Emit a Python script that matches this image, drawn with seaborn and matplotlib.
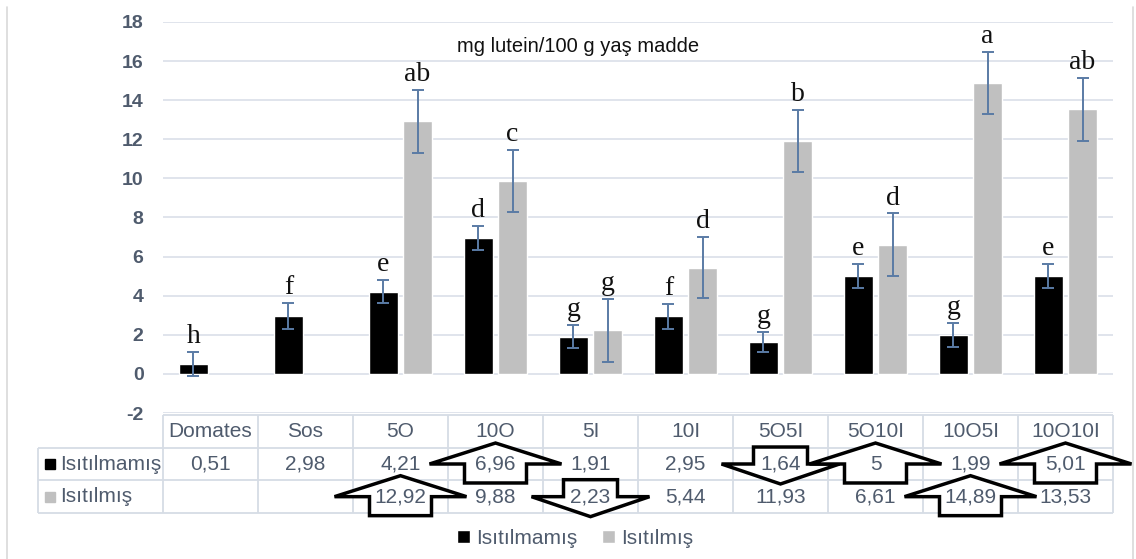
"""
Lutein içeriği - Isıtılmamış / Isıtılmış örnekler, Excel tarzı veri tablosu ile
"""

import numpy as np
import pandas as pd
import seaborn as sns
import matplotlib.pyplot as plt
from matplotlib.patches import Polygon
from matplotlib.lines import Line2D

sns.set_style("white")
plt.rcParams['font.family'] = ['Liberation Sans', 'DejaVu Sans']

# Veriler
categories = ['Domates', 'Sos', '5O', '10O', '5I', '10I', '5O5I', '5O10I', '10O5I', '10O10I']
isitilmamis = [0.51, 2.98, 4.21, 6.96, 1.91, 2.95, 1.64, 5.00, 1.99, 5.01]
isitilmis = [np.nan, np.nan, 12.92, 9.88, 2.23, 5.44, 11.93, 6.61, 14.89, 13.53]
isitilmamis_err = [0.62, 0.66, 0.60, 0.63, 0.60, 0.63, 0.50, 0.63, 0.63, 0.63]
isitilmis_err = [np.nan, np.nan, 1.60, 1.58, 1.60, 1.55, 1.58, 1.60, 1.60, 1.60]
isitilmamis_harf = ['h', 'f', 'e', 'd', 'g', 'f', 'g', 'e', 'g', 'e']
isitilmis_harf = ['', '', 'ab', 'c', 'g', 'd', 'b', 'd', 'a', 'ab']
seriler = ['Isıtılmamış', 'Isıtılmış']
renkler = ['#000000', '#c0c0c0']
baslik = 'mg lutein/100 g yaş madde'
yticks = list(range(-2, 19, 2))
# tablodaki oklar: (örnek, satır, yön)
oklar = [('10O', 0, 'up'), ('5O', 1, 'up'), ('5I', 1, 'down'), ('5O5I', 0, 'down'),
         ('5O10I', 0, 'up'), ('10O5I', 1, 'up'), ('10O10I', 0, 'up')]

metin_renk = '#4f5b6d'
cizgi_renk = '#d6dce5'
W, H = 1136, 559

df = pd.DataFrame({
    'Örnek': categories * 2,
    'Durum': [seriler[0]] * len(categories) + [seriler[1]] * len(categories),
    'Değer': isitilmamis + isitilmis,
})
df = df.dropna(subset=['Değer'])

fig = plt.figure(figsize=(W / 100, H / 100), dpi=100)
ax = fig.add_axes([163 / W, 1 - 413 / H, 950 / W, 391 / H])

sns.barplot(data=df, x='Örnek', y='Değer', hue='Durum', order=categories,
            hue_order=seriler, palette=renkler, width=0.72, gap=0.15,
            errorbar=None, ax=ax, zorder=2)

# Hata çubukları ve harfler
hatalar = {seriler[0]: isitilmamis_err, seriler[1]: isitilmis_err}
harfler = {seriler[0]: isitilmamis_harf, seriler[1]: isitilmis_harf}
for cont, seri in zip(ax.containers, seriler):
    for bar in cont:
        xc = bar.get_x() + bar.get_width() / 2
        h = bar.get_height()
        i = int(round(xc))
        e = hatalar[seri][i]
        ax.errorbar(xc, h, yerr=e, fmt='none', ecolor='#5a7ba5',
                    elinewidth=1.4, capsize=4, capthick=1.4, zorder=3)
        ax.text(xc, h + e + 0.45, harfler[seri][i], ha='center', va='baseline',
                family='Liberation Serif', fontsize=20, color='#111111', zorder=4)

ax.set_ylim(-2, 18)
ax.set_yticks(yticks)
ax.set_yticklabels([str(t) for t in yticks], fontsize=14, fontweight='bold', color=metin_renk)
ax.tick_params(axis='y', length=0, pad=14)
ax.tick_params(axis='x', length=0, labelbottom=False)
ax.set_xlabel('')
ax.set_ylabel('')
ax.yaxis.grid(True, color='#dde2ea', lw=1.3)
ax.set_axisbelow(True)
sns.despine(ax=ax, left=True, bottom=True)

handles, labels = ax.get_legend_handles_labels()
ax.legend_.remove()

ax.text(578 / W, 1 - 46 / H, baslik, transform=fig.transFigure, ha='center',
        va='center', fontsize=14.5, color='#111111')

# Veri tablosu
tax = fig.add_axes([163 / W, 1 - 513 / H, 950 / W, 98 / H], sharex=ax)
tax.set_ylim(3, 0)
tax.axis('off')
n = len(categories)
x_lab = -0.5 - 125 / 95

tax.hlines(0, -0.5, n - 0.5, color=cizgi_renk, lw=1.3, clip_on=False, zorder=1)
for r in [1, 2, 3]:
    tax.hlines(r, x_lab, n - 0.5, color=cizgi_renk, lw=1.3, clip_on=False, zorder=1)
for k in range(n + 1):
    tax.vlines(k - 0.5, 0, 3, color=cizgi_renk, lw=1.3, clip_on=False, zorder=1)
tax.vlines(x_lab, 1, 3, color=cizgi_renk, lw=1.3, clip_on=False, zorder=1)


def fmt(v):
    return '' if np.isnan(v) else f"{v:g}".replace('.', ',')


for i, cat in enumerate(categories):
    tax.text(i, 0.5, cat, ha='center', va='center', fontsize=15, color=metin_renk, zorder=4)
    tax.text(i, 1.5, fmt(isitilmamis[i]), ha='center', va='center', fontsize=15,
             color=metin_renk, zorder=4)
    tax.text(i, 2.5, fmt(isitilmis[i]), ha='center', va='center', fontsize=15,
             color=metin_renk, zorder=4)

for r, (seri, renk) in enumerate(zip(seriler, renkler)):
    tax.plot([x_lab + 12 / 95], [r + 1.5], marker='s', ms=7.5, color=renk,
             clip_on=False, zorder=4)
    tax.text(x_lab + 22 / 95, r + 1.5, seri, ha='left', va='center', fontsize=15,
             color=metin_renk, zorder=4)

# Oklar (piksel ölçüleri -> tablo birimleri)
ux, uy = 1 / 95, 1 / 32.7
yukari = [(0, -21), (66, 0), (31, 0), (31, 19), (-31, 19), (-31, 0), (-66, 0)]
asagi = [(-27, -17), (27, -17), (27, 0), (59, 0), (0, 20), (-59, 0), (-27, 0)]
for cat, satir, yon in oklar:
    cx = categories.index(cat)
    cy = satir + 1.5
    sekil = yukari if yon == 'up' else asagi
    pts = [(cx + dx * ux, cy + dy * uy) for dx, dy in sekil]
    tax.add_patch(Polygon(pts, closed=True, facecolor='white', edgecolor='black',
                          lw=2.5, clip_on=False, zorder=3))

# tablo çizimleri x sınırlarını kaydırmasın
ax.set_xlim(-0.5, n - 0.5)
tax.set_ylim(3, 0)

# Alt gösterge
fig.legend(handles, labels, loc='center', bbox_to_anchor=(575 / W, 1 - 538 / H),
           ncol=2, frameon=False, fontsize=15, handlelength=0.6, handleheight=0.6,
           handletextpad=0.3, columnspacing=1.2, labelcolor=metin_renk)

# Grafik çerçevesi (sol ve sağ kenar)
for xp in [7, 1133]:
    fig.add_artist(Line2D([xp / W, xp / W], [0, 1 - 7 / H], transform=fig.transFigure,
                          color='#d9d9d9', lw=1.2))

plt.savefig('out.png', dpi=100)
